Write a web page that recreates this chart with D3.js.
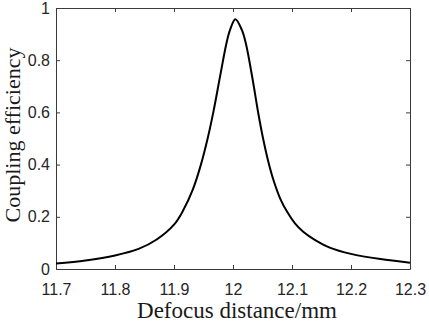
<!DOCTYPE html>
<html>

<head>
    <meta charset="utf-8">
    <style>
        body {
            margin: 0;
            background: #fff;
        }

        svg {
            display: block;
        }

        .axis .domain {
            stroke: #3a3a3a;
            stroke-width: 1;
        }

        .axis .tick line {
            stroke: #3a3a3a;
        }

        .axis .tick text {
            font-family: "Liberation Sans", Arial, sans-serif;
            font-size: 16px;
            fill: #262626;
        }

        .axis-label {
            font-family: "Liberation Serif", "Times New Roman", serif;
            fill: #1a1a1a;
        }
    </style>
</head>

<body>
    <svg width="429" height="323"></svg>

    <script src="https://cdn.jsdelivr.net/npm/d3@7/dist/d3.min.js"></script>
    <script>
        let width = 429;
        let height = 323;
        let margin = { top: 8, right: 19, bottom: 54, left: 56 };

        // defocus distance (mm)
        let defocus = [
            11.70, 11.75, 11.80, 11.84, 11.87, 11.90, 11.915, 11.932, 11.945, 11.957,
            11.967, 11.978, 11.989, 11.995, 12.004, 12.015, 12.022, 12.033, 12.043, 12.051,
            12.06, 12.068, 12.08, 12.092, 12.105, 12.119, 12.14, 12.164, 12.20, 12.25,
            12.30
        ]

        // coupling efficiency
        let efficiency = [
            0.021, 0.033, 0.052, 0.077, 0.112, 0.17, 0.222, 0.305, 0.395, 0.50,
            0.605, 0.737, 0.866, 0.916, 0.957, 0.916, 0.862, 0.73, 0.595, 0.50,
            0.41, 0.345, 0.27, 0.218, 0.175, 0.143, 0.11, 0.082, 0.058, 0.038,
            0.024
        ]

        let xTicks = [11.7, 11.8, 11.9, 12, 12.1, 12.2, 12.3]
        let yTicks = [0, 0.2, 0.4, 0.6, 0.8, 1]

        let data = defocus.map((d, i) => ({ x: d, y: efficiency[i] }))

        let svg = d3.select("svg")

        let x = d3.scaleLinear()
            .domain([11.7, 12.3])
            .range([margin.left, width - margin.right])

        let y = d3.scaleLinear()
            .domain([0, 1])
            .range([height - margin.bottom, margin.top])

        // bottom axis with labels
        svg.append("g")
            .attr("class", "axis")
            .attr("transform", `translate(0,${height - margin.bottom})`)
            .call(d3.axisBottom(x)
                .tickValues(xTicks)
                .tickFormat(d3.format("~g"))
                .tickSizeInner(-4)
                .tickSizeOuter(0)
                .tickPadding(15))

        // left axis with labels
        svg.append("g")
            .attr("class", "axis")
            .attr("transform", `translate(${margin.left},0)`)
            .call(d3.axisLeft(y)
                .tickValues(yTicks)
                .tickFormat(d3.format("~g"))
                .tickSizeInner(-4)
                .tickSizeOuter(0)
                .tickPadding(6))

        // top + right edges of the box, ticks only
        svg.append("g")
            .attr("class", "axis")
            .attr("transform", `translate(0,${margin.top})`)
            .call(d3.axisTop(x)
                .tickValues(xTicks)
                .tickFormat("")
                .tickSizeInner(-4)
                .tickSizeOuter(0))

        svg.append("g")
            .attr("class", "axis")
            .attr("transform", `translate(${width - margin.right},0)`)
            .call(d3.axisRight(y)
                .tickValues(yTicks)
                .tickFormat("")
                .tickSizeInner(-4)
                .tickSizeOuter(0))

        let line = d3.line()
            .x(d => x(d.x))
            .y(d => y(d.y))
            .curve(d3.curveCatmullRom.alpha(0.5))

        svg.append("path")
            .datum(data)
            .attr("fill", "none")
            .attr("stroke", "#000")
            .attr("stroke-width", 2)
            .attr("stroke-linejoin", "round")
            .attr("d", line)

        svg.append("text")
            .attr("class", "axis-label")
            .attr("text-anchor", "middle")
            .style("font-size", "23px")
            .attr("x", 237)
            .attr("y", 318)
            .text("Defocus distance/mm")

        svg.append("text")
            .attr("class", "axis-label")
            .attr("text-anchor", "middle")
            .style("font-size", "22px")
            .attr("transform", `translate(20,135) rotate(-90)`)
            .text("Coupling efficiency")
    </script>
</body>

</html>
